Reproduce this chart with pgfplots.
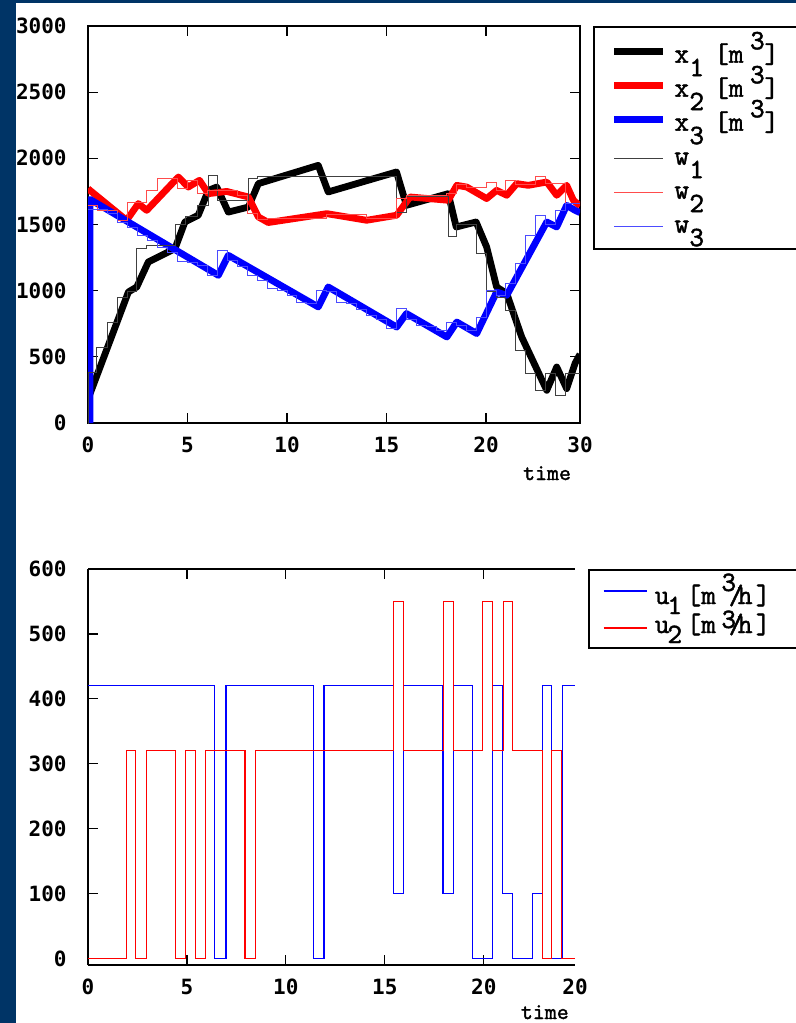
\documentclass[border=0pt]{standalone}
\usepackage{fontspec}
\setmainfont{DejaVu Sans Mono}
\newfontfamily\legfont{lmmono10-regular}[Extension=.otf, FakeBold=1.5]
\usepackage{pgfplots}
\pgfplotsset{compat=1.18}
\definecolor{frame}{HTML}{003466}

\newcommand\tl{\bfseries\fontsize{10.5}{12}\selectfont}
\newcommand\lf{\legfont\fontsize{14}{16}\selectfont}
\newcommand\tf{\legfont\fontsize{11.4}{13}\selectfont}
% legend labels: glyphs set at fixed offsets from the start of the entry
\newcommand\at[2]{\rlap{\hspace*{#1}#2}}
\newcommand\xlab[2]{\at{0pt}{#1}\at{7.5pt}{\raisebox{-6.7pt}{#2}}%
  \at{19.9pt}{[m}\at{37.8pt}{\raisebox{6.7pt}{3}}\at{45pt}{]}}
\newcommand\wlab[2]{\at{0pt}{#1}\at{7.5pt}{\raisebox{-6.7pt}{#2}}}
\newcommand\ulab[2]{\at{0pt}{u}\at{6.3pt}{\raisebox{-5pt}{#1}}%
  \at{15.9pt}{[m}\at{33.3pt}{\raisebox{#2}{3}}\at{37pt}{/}\at{41.5pt}{h}\at{50.5pt}{]}}

\pgfplotsset{
  common/.style={
    scale only axis, tick align=inside, major tick length=5pt,
    axis line style={-, line width=1pt}, tick style={black, line width=0.6pt},
    tick label style={font=\tl}, /pgf/number format/assume math mode=true,
    scaled ticks=false, /pgf/number format/set thousands separator={},
    yticklabel style={inner sep=0pt, xshift=-10.5pt},
    xticklabel style={inner sep=0pt, yshift=-7pt},
    xtick={0,5,10,15,20},
    extra x tick style={major tick length=0pt},
  },
  thickleg/.style={legend image code/.code={\draw[##1] (-1.5pt,5.5pt) -- (23pt,5.5pt); \path (26.8pt,0pt);}},
  thinleg/.style={legend image code/.code={\draw[##1] (-1.5pt,3.2pt) -- (23pt,3.2pt); \path (26.8pt,0pt);}},
  uoneleg/.style={legend image code/.code={\draw[##1] (0pt,6.5pt) -- (21.5pt,6.5pt); \path (25.3pt,0pt);}},
  utwoleg/.style={legend image code/.code={\draw[##1] (0pt,2.5pt) -- (21.5pt,2.5pt); \path (25.3pt,0pt);}},
}

\begin{document}
\begin{tikzpicture}
\fill[frame] (0,0) rectangle (398pt,-511.5pt);
\fill[white] (8pt,-1.65pt) rectangle (398pt,-511.5pt);

% ---- states x and references w
\begin{axis}[common,
  at={(44pt,-13pt)}, anchor=north west,
  width=246pt, height=198.5pt,
  xmin=0, xmax=24.72, ymin=0, ymax=3000,
  ytick={0,500,...,3000},
  extra x ticks={24.72}, extra x tick labels={30},
  xlabel={time},
  xlabel style={font=\tf, at={(axis description cs:0.933,0)}, anchor=base, yshift=-28.5pt, inner sep=0pt},
  legend style={at={(1,1)}, anchor=north west, xshift=6.5pt, draw=black, line width=1pt,
    fill=white, inner xsep=8.5pt, inner ysep=4.5pt, row sep=0pt, column sep=0pt,
    cells={anchor=base west},
    nodes={inner sep=0pt, text height=13.35pt, text depth=3.65pt, text width=57pt, font=\lf}},
]
\addplot[black, line width=3.4pt, line join=round, thickleg] coordinates {
  (0.05,200) (2.03,990) (2.45,1028) (3.03,1217) (4.37,1318) (4.87,1519)
  (5.54,1570) (6.05,1758) (6.47,1783) (7.05,1594) (8.06,1632) (8.56,1809)
  (11.57,1947) (12.07,1746) (15.5,1897) (16.0,1645) (18.1,1733) (18.5,1481)
  (19.5,1519) (20.03,1330) (20.53,1028) (21.04,978) (21.79,650) (23.05,247)
  (23.55,423) (24.05,260) (24.47,450) (24.72,520)};
\addlegendentry{\xlab{x}{1}}
\addplot[red, line width=3.4pt, line join=round, thickleg] coordinates {
  (0,1770) (1.94,1532) (2.53,1658) (2.95,1607) (4.54,1859) (5.04,1783) (5.6,1834)
  (6.05,1733) (6.97,1750) (8.06,1708) (8.56,1557) (9.06,1515) (12.0,1582) (14.0,1532)
  (15.51,1570) (16.18,1708) (18.1,1683) (18.53,1796) (19.03,1783) (20.03,1696)
  (20.53,1758) (21.04,1721) (21.54,1809) (22.12,1796) (23.05,1821) (23.55,1721)
  (24.05,1796) (24.39,1683) (24.72,1640)};
\addlegendentry{\xlab{x}{2}}
\addplot[blue, line width=3.4pt, line join=round, thickleg] coordinates {
  (0.1,0) (0.1,1690) (6.55,1116) (7.05,1267) (11.57,877) (12.07,1028)
  (15.51,725) (16.0,827) (18.03,650) (18.53,763) (19.53,676) (20.53,990)
  (21.04,965) (23.05,1519) (23.55,1481) (24.05,1645) (24.47,1607) (24.72,1590)};
\addlegendentry{\xlab{x}{3}}
\addplot[black!75, line width=0.5pt, const plot, thinleg] coordinates {
  (0,0) (0.05,385) (0.44,570) (1.0,763) (1.5,945) (2.0,990) (2.45,1318)
  (2.95,1338) (4.4,1500) (4.9,1560) (5.5,1640) (6.05,1872) (6.5,1683)
  (8.06,1847) (8.5,1864) (15.5,1594) (16.0,1708) (18.1,1406) (18.5,1500)
  (19.5,1280) (20.0,990) (20.5,952) (21.0,852) (21.5,549) (22.0,373)
  (22.5,247) (23.0,373) (23.5,209) (24.0,373) (24.72,373)};
\addlegendentry{\wlab{w}{1}}
\addplot[red!70, line width=0.5pt, const plot, thinleg] coordinates {
  (0,1645) (0.5,1607) (1.5,1532) (2.0,1670) (2.95,1758) (3.5,1847)
  (4.5,1771) (5.0,1834) (5.5,1738) (6.0,1760) (7.5,1720) (8.0,1582)
  (8.5,1540) (9.0,1545) (12.0,1575) (14.0,1545) (15.5,1700) (16.0,1720)
  (18.0,1733) (18.5,1800) (19.0,1780) (20.0,1821) (20.5,1760) (21.0,1834)
  (21.5,1800) (22.5,1859) (23.0,1810) (23.5,1809) (24.0,1658) (24.72,1658)};
\addlegendentry{\wlab{w}{2}}
\addplot[blue!70, line width=0.5pt, const plot, thinleg] coordinates {
  (0,1610) (1.0,1580) (1.5,1512) (2.0,1480) (2.5,1419) (3.0,1380) (3.5,1330)
  (4.0,1290) (4.5,1217) (5.0,1210) (5.5,1192) (6.0,1116) (6.5,1305) (7.0,1230)
  (7.5,1180) (8.0,1116) (8.5,1080) (9.0,1015) (9.5,1000) (10.0,960) (10.5,914)
  (11.0,900) (11.5,1003) (12.0,990) (12.5,914) (13.0,900) (13.5,860) (14.0,814)
  (14.5,780) (15.0,713) (15.5,865) (16.0,780) (16.5,740) (17.0,730) (17.5,700)
  (18.0,763) (18.5,740) (19.0,700) (19.5,801) (20.0,1003) (20.5,960) (21.0,1053)
  (21.5,1204) (22.0,1418) (22.5,1570) (23.0,1500) (23.5,1607) (24.0,1658) (24.72,1658)};
\addlegendentry{\wlab{w}{3}}
\end{axis}

% ---- inputs u
\begin{axis}[common,
  at={(44pt,-284.5pt)}, anchor=north west,
  width=243.5pt, height=198pt,
  axis x line=box, axis y line=left,
  axis line style={-, line width=1pt}, tick align=inside,
  xmin=0, xmax=24.61, ymin=-10, ymax=600,
  ytick={0,100,...,600},
  extra x ticks={24.61}, extra x tick labels={20},
  xlabel={time},
  xlabel style={font=\tf, at={(axis description cs:0.938,0)}, anchor=base, yshift=-27pt, inner sep=0pt},
  legend style={at={(1,1)}, anchor=north west, xshift=6.5pt, draw=black, line width=1pt,
    fill=white, inner xsep=7pt, inner ysep=5pt, row sep=0pt, column sep=0pt,
    cells={anchor=base west},
    nodes={inner sep=0pt, text height=12pt, text depth=2.5pt, text width=75pt, font=\lf}},
]
\addplot[blue, line width=0.6pt, const plot, uoneleg] coordinates {
  (0,420) (6.41,0) (6.97,420) (11.41,0) (11.93,420) (15.42,100) (15.93,420)
  (17.94,100) (18.45,420) (19.43,0) (20.44,420) (20.94,100) (21.45,0)
  (22.46,100) (22.95,420) (23.43,0) (23.97,420) (24.61,420)};
\addlegendentry{\ulab{1}{6.5pt}}
\addplot[red, line width=0.6pt, const plot, utwoleg] coordinates {
  (0,0) (1.95,320) (2.41,0) (2.96,320) (4.43,0) (4.93,320) (5.42,0) (5.94,320)
  (7.93,0) (8.45,320) (15.42,550) (15.93,320) (17.98,550) (18.45,320)
  (19.93,550) (20.44,320) (20.98,550) (21.45,320) (22.95,0) (23.43,320)
  (23.94,0) (24.61,0)};
\addlegendentry{\ulab{2}{2.5pt}}
\end{axis}
\pgfresetboundingbox
\useasboundingbox (0,0) rectangle (398pt,-511.5pt);
\end{tikzpicture}
\end{document}
